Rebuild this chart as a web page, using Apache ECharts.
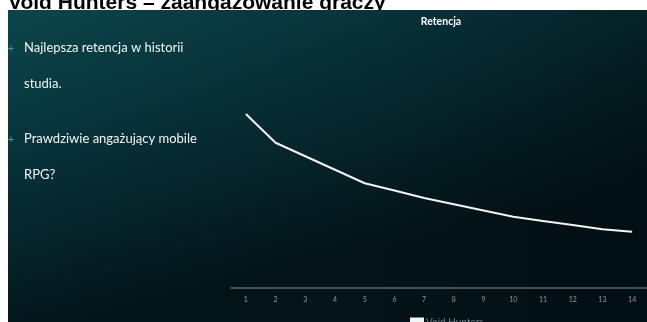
<!DOCTYPE html>
<html>
<head>
<meta charset="utf-8">
<script src="https://cdn.jsdelivr.net/npm/echarts@6/dist/echarts.min.js"></script>
<style>
  html, body { margin: 0; padding: 0; background: #ffffff; }
  #chart_example { width: 647px; height: 322px; }
</style>
</head>
<body>
<div id="chart_example"></div>
<script>
// dane wykresu
var days = ["1", "2", "3", "4", "5", "6", "7", "8", "9", "10", "11", "12", "13", "14"];
var retention = [69.6, 58.1, 52.7, 47.3, 41.9, 39.0, 36.0, 33.5, 31.0, 28.5, 26.8, 25.2, 23.5, 22.5];
var seriesName = "Void Hunters";
var pageTitle = "Void Hunters – zaangażowanie graczy";
var chartTitle = "Retencja";
var bullets = [
  ["Najlepsza retencja w historii", "studia."],
  ["Prawdziwie angażujący mobile", "RPG?"]
];

var myChart = echarts.init(document.getElementById("chart_example"));

// tekst po lewej stronie
var bulletGraphics = [];
var lineY = 48;
bullets.forEach(function(item) {
  bulletGraphics.push({
    type: "text",
    z: 20,
    style: { text: "+", x: 11, y: lineY, fill: "#3f9f98", font: "11px Lato", verticalAlign: "middle", align: "center" }
  });
  item.forEach(function(line) {
    bulletGraphics.push({
      type: "text",
      z: 20,
      style: { text: line, x: 24, y: lineY, fill: "#f2f5f5", font: "13px Lato", verticalAlign: "middle" }
    });
    lineY += 36;
  });
  lineY += 19;
});

var option = {
  backgroundColor: "#ffffff",
  animation: false,
  graphic: [
    {
      type: "text",
      z: -20,
      style: {
        text: pageTitle,
        x: 8,
        y: 3,
        fill: "#000000",
        font: "bold 21px 'Liberation Sans'",
        verticalAlign: "middle"
      }
    },
    {
      // tlo panelu
      type: "rect",
      z: -10,
      shape: { x: 8, y: 10, width: 639, height: 312 },
      style: {
        fill: new echarts.graphic.LinearGradient(0, 0, 0.12, 1, [
          { offset: 0, color: "#0b464b" },
          { offset: 0.45, color: "#07323a" },
          { offset: 1, color: "#03151a" }
        ])
      }
    },
    {
      type: "rect",
      z: -9,
      shape: { x: 8, y: 10, width: 639, height: 312 },
      style: {
        fill: new echarts.graphic.LinearGradient(0, 0, 1, 0, [
          { offset: 0, color: "rgba(0,0,0,0)" },
          { offset: 0.6, color: "rgba(0,0,0,0.12)" },
          { offset: 1, color: "rgba(0,0,0,0.3)" }
        ])
      }
    }
  ].concat(bulletGraphics),
  title: {
    text: chartTitle,
    left: 436,
    top: 11,
    textAlign: "center",
    textStyle: { color: "#ffffff", fontSize: 10.5, fontWeight: "bold", fontFamily: "Lato" }
  },
  legend: {
    data: [seriesName],
    left: 405,
    top: 312,
    icon: "rect",
    itemWidth: 14,
    itemHeight: 9,
    itemGap: 2,
    textStyle: { color: "#6f7f82", fontSize: 10, fontFamily: "Lato", padding: [0, 0, 0, -3] }
  },
  grid: { left: 231, right: 0, top: 38, bottom: 34 },
  xAxis: {
    type: "category",
    data: days,
    boundaryGap: true,
    axisLine: { lineStyle: { color: "#56686b", width: 1.5 } },
    axisTick: { show: false },
    axisLabel: { color: "#8a9a9c", fontSize: 7, margin: 8, fontFamily: "Lato" }
  },
  yAxis: {
    type: "value",
    min: 0,
    max: 100,
    show: false
  },
  series: [
    {
      name: seriesName,
      type: "line",
      data: retention,
      showSymbol: false,
      symbol: "none",
      color: "#f4f4f4",
      lineStyle: { color: "#f4f4f4", width: 2 }
    }
  ]
};
myChart.setOption(option, true);
</script>
</body>
</html>
